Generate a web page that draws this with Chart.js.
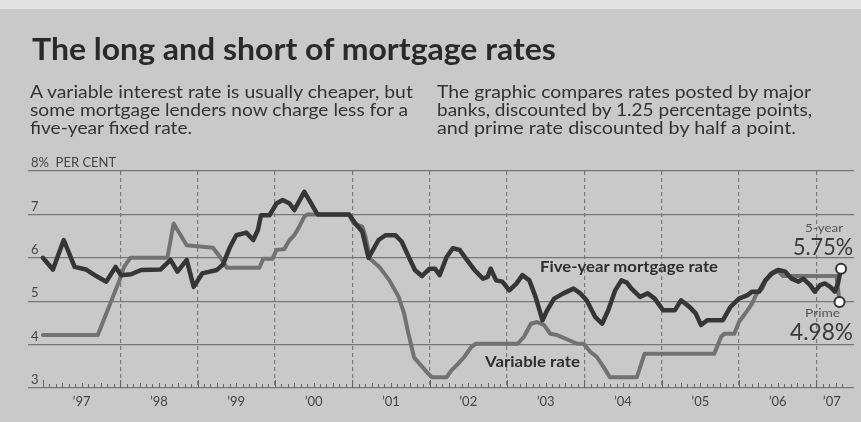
<!DOCTYPE html>
<html><head><meta charset="utf-8">
<script src="https://cdn.jsdelivr.net/npm/chart.js@4.4.0/dist/chart.umd.min.js"></script>
<style>
html,body{margin:0;padding:0;}
body{width:861px;height:422px;overflow:hidden;background:#c9c9c9;position:relative;font-family:Lato,"Open Sans",sans-serif;}
#strip{position:absolute;left:0;top:0;width:861px;height:9px;background:#e2e2e2;}
canvas{position:absolute;left:0;top:0;}
.t{position:absolute;white-space:nowrap;transform-origin:0 0;line-height:1.2;}
</style></head><body>
<div id="strip"></div>
<canvas id="c" width="861" height="422"></canvas>

<div class="t" data-w="524" style="left:32px;top:30px;font-size:30px;font-weight:700;color:#2a2a2a">The long and short of mortgage rates</div>

<div class="t" data-w="383" style="left:30px;top:83px;font-size:16.5px;color:#333">A variable interest rate is usually cheaper, but</div>
<div class="t" data-w="378" style="left:30px;top:101px;font-size:16.5px;color:#333">some mortgage lenders now charge less for a</div>
<div class="t" data-w="162" style="left:30px;top:119px;font-size:16.5px;color:#333">five-year fixed rate.</div>

<div class="t" data-w="374" style="left:437px;top:83px;font-size:16.5px;color:#333">The graphic compares rates posted by major</div>
<div class="t" data-w="375" style="left:437px;top:101px;font-size:16.5px;color:#333">banks, discounted by 1.25 percentage points,</div>
<div class="t" data-w="359" style="left:437px;top:119px;font-size:16.5px;color:#333">and prime rate discounted by half a point.</div>

<div class="t" data-w="178" style="left:540px;top:257px;font-size:15px;font-weight:700;color:#2e2e2e">Five-year mortgage rate</div>
<div class="t" data-w="95" style="left:485px;top:352px;font-size:15px;font-weight:700;color:#2e2e2e">Variable rate</div>

<div class="t" data-w="38" style="left:805px;top:221px;font-size:12px;color:#555">5-year</div>
<div class="t" data-w="60" style="left:793px;top:232px;font-size:23.5px;color:#3a3a3a">5.75%</div>
<div class="t" data-w="35" style="left:805px;top:306px;font-size:12px;color:#555">Prime</div>
<div class="t" data-w="63" style="left:790px;top:317px;font-size:23.5px;color:#3a3a3a">4.98%</div>

<script>
// ---- data (decimal years, per cent) ----
const fiveYearDates = [1997.00,1997.13,1997.27,1997.41,1997.56,1997.69,1997.82,1997.94,1998.01,1998.14,1998.27,1998.52,1998.65,1998.74,1998.86,1998.95,1999.06,1999.25,1999.33,1999.42,1999.50,1999.63,1999.72,1999.78,1999.82,1999.93,2000.02,2000.10,2000.19,2000.25,2000.38,2000.47,2000.55,2000.96,2001.04,2001.13,2001.21,2001.34,2001.43,2001.56,2001.64,2001.73,2001.81,2001.90,2002.00,2002.07,2002.13,2002.22,2002.30,2002.39,2002.47,2002.58,2002.69,2002.75,2002.79,2002.86,2002.94,2003.03,2003.12,2003.20,2003.29,2003.37,2003.46,2003.52,2003.61,2003.73,2003.86,2003.95,2004.03,2004.14,2004.23,2004.31,2004.40,2004.48,2004.55,2004.61,2004.72,2004.82,2004.91,2005.02,2005.17,2005.25,2005.36,2005.44,2005.51,2005.59,2005.79,2005.89,2006.00,2006.11,2006.17,2006.26,2006.34,2006.43,2006.51,2006.60,2006.68,2006.77,2006.83,2006.92,2006.98,2007.05,2007.11,2007.18,2007.24,2007.28,2007.32];
const fiveYearRates = [6.00,5.73,6.41,5.79,5.73,5.58,5.45,5.79,5.60,5.62,5.72,5.73,5.95,5.68,5.95,5.33,5.64,5.72,5.85,6.25,6.52,6.58,6.41,6.64,6.98,6.98,7.25,7.33,7.25,7.10,7.52,7.25,7.00,7.00,6.79,6.60,6.00,6.41,6.52,6.52,6.37,6.02,5.72,5.58,5.75,5.75,5.60,6.02,6.22,6.18,5.98,5.72,5.52,5.56,5.75,5.48,5.45,5.25,5.40,5.60,5.48,5.10,4.56,4.79,5.06,5.18,5.29,5.18,5.02,4.64,4.48,4.79,5.25,5.48,5.43,5.29,5.10,5.18,5.06,4.79,4.79,5.02,4.87,4.72,4.45,4.56,4.56,4.87,5.06,5.14,5.22,5.22,5.48,5.64,5.72,5.68,5.52,5.45,5.52,5.37,5.22,5.37,5.41,5.33,5.22,5.41,5.75];

const variableDates = [1997.00,1997.71,1997.99,1998.05,1998.13,1998.61,1998.69,1998.86,1999.20,1999.29,1999.38,1999.80,1999.85,1999.97,2000.02,2000.12,2000.19,2000.25,2000.31,2000.38,2000.42,2000.96,2001.02,2001.13,2001.17,2001.23,2001.35,2001.48,2001.60,2001.67,2001.72,2001.80,2001.90,2001.97,2002.03,2002.22,2002.28,2002.37,2002.45,2002.54,2002.60,2003.14,2003.22,2003.31,2003.39,2003.48,2003.56,2003.65,2003.91,2003.99,2004.08,2004.16,2004.25,2004.33,2004.68,2004.78,2005.68,2005.77,2005.81,2005.94,2006.00,2006.11,2006.17,2006.23,2006.30,2006.34,2006.41,2006.49,2006.57,2007.26,2007.30];
const variableRates = [4.22,4.22,5.48,5.79,6.00,6.00,6.79,6.29,6.23,6.02,5.77,5.77,5.98,5.98,6.18,6.20,6.41,6.52,6.70,6.95,7.00,7.00,6.79,6.72,6.50,5.98,5.79,5.48,5.10,4.72,4.30,3.70,3.50,3.35,3.25,3.25,3.40,3.56,3.72,3.95,4.02,4.02,4.18,4.48,4.52,4.45,4.25,4.22,4.02,4.02,3.83,3.72,3.48,3.25,3.25,3.79,3.79,4.18,4.25,4.25,4.52,4.79,4.95,5.18,5.29,5.45,5.64,5.72,5.58,5.58,4.98];

const yTicks = [3,4,5,6,7,8];
const yTickLabels = ['3','4','5','6','7','8%  PER CENT'];
const gridYears = [1998,1999,2000,2001,2002,2003,2004,2005,2006,2007];
const yearLabelPos = [1997.5,1998.5,1999.5,2000.5,2001.5,2002.5,2003.5,2004.5,2005.5,2006.5,2007.2];
const yearLabels = ['\u201997','\u201998','\u201999','\u201900','\u201901','\u201902','\u201903','\u201904','\u201905','\u201906','\u201907'];

// ---- layout ----
const xMin = 1997 - 15/78, xMax = 1997 + (861-43)/78;
const toPts = (xs, ys) => xs.map((d, i) => ({x: d, y: ys[i]}));
const lastOnly = r => ctx => ctx.dataIndex === ctx.dataset.data.length - 1 ? r : 0;

const minorTicks = {
  id: 'minorTicks',
  beforeDatasetsDraw(chart) {
    const {ctx, chartArea, scales} = chart;
    const x = scales.x;
    ctx.save();
    ctx.strokeStyle = '#666';
    ctx.lineWidth = 1;
    for (let m = 0; m <= 124; m++) {
      const px = Math.round(x.getPixelForValue(1997 + m / 12)) + 0.5;
      ctx.beginPath();
      ctx.moveTo(px, chartArea.bottom);
      ctx.lineTo(px, chartArea.bottom - (m % 12 === 0 ? 8 : (m % 3 === 0 ? 5 : 4)));
      ctx.stroke();
    }
    ctx.restore();
  }
};

new Chart(document.getElementById('c').getContext('2d'), {
  type: 'line',
  data: {
    datasets: [
      {
        label: 'Five-year mortgage rate',
        data: toPts(fiveYearDates, fiveYearRates),
        borderColor: '#363636', borderWidth: 4.5,
        borderJoinStyle: 'round', borderCapStyle: 'round',
        tension: 0, fill: false,
        pointRadius: lastOnly(5), pointHoverRadius: 0,
        pointBackgroundColor: '#ffffff', pointBorderColor: '#333', pointBorderWidth: 2
      },
      {
        label: 'Variable rate',
        data: toPts(variableDates, variableRates),
        borderColor: '#727272', borderWidth: 4,
        borderJoinStyle: 'round', borderCapStyle: 'round',
        tension: 0, fill: false,
        pointRadius: lastOnly(5), pointHoverRadius: 0,
        pointBackgroundColor: '#ffffff', pointBorderColor: '#333', pointBorderWidth: 2
      }
    ]
  },
  options: {
    responsive: false, animation: false, devicePixelRatio: 1,
    layout: {padding: {left: 28, top: 171, right: 0, bottom: 0}},
    plugins: {legend: {display: false}, tooltip: {enabled: false}},
    scales: {
      x: {
        type: 'linear', min: xMin, max: xMax, position: 'bottom',
        afterBuildTicks: s => { s.ticks = gridYears.map(v => ({value: v})); },
        ticks: {display: false},
        grid: {color: '#7a7a7a', lineWidth: 1.2, drawTicks: false},
        border: {display: false, dash: [4, 3]},
        afterFit: s => { s.height = 0; }
      },
      xl: {
        type: 'linear', min: xMin, max: xMax, position: 'bottom',
        afterBuildTicks: s => { s.ticks = yearLabelPos.map(v => ({value: v})); },
        ticks: {
          autoSkip: false, maxRotation: 0, padding: 6,
          callback: (v, i) => yearLabels[i],
          font: {family: 'Lato', size: 13}, color: '#444'
        },
        grid: {display: false, drawTicks: false},
        border: {display: false},
        afterFit: s => { s.height = 34; }
      },
      y: {
        min: 3, max: 8,
        afterBuildTicks: s => { s.ticks = yTicks.map(v => ({value: v})); },
        ticks: {
          mirror: true, padding: 3, labelOffset: -8,
          callback: (v, i) => yTickLabels[i],
          font: {family: 'Lato', size: 13}, color: '#444'
        },
        grid: {color: '#777', lineWidth: 1.3, drawTicks: false},
        border: {display: false},
        afterFit: s => { s.width = 0; }
      }
    }
  },
  plugins: [minorTicks]
});

// fit text widths to the reference
document.querySelectorAll('.t[data-w]').forEach(el => {
  const w = el.getBoundingClientRect().width;
  const target = parseFloat(el.dataset.w);
  if (w > 0) el.style.transform = 'scaleX(' + (target / w).toFixed(3) + ')';
});
</script>
</body></html>
